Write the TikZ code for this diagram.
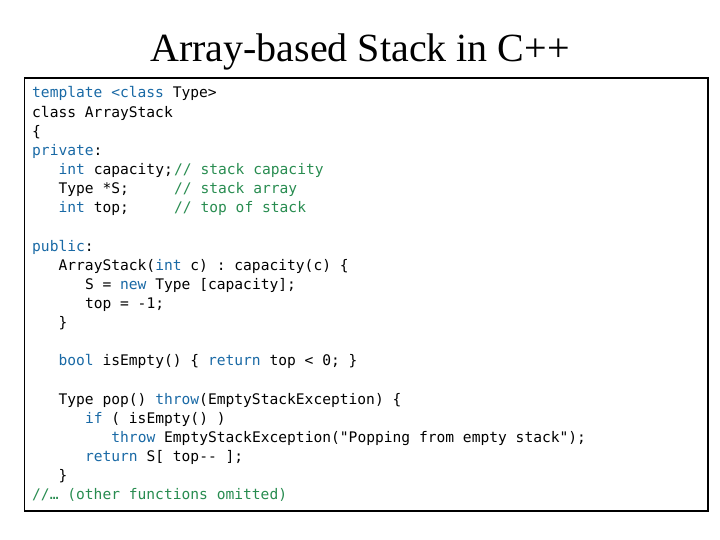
\documentclass[tikz,border=0pt]{standalone}
\usepackage{fontspec}
\usepackage{tikz}
\setmainfont{Liberation Serif}
\setmonofont{DejaVu Sans Mono}
\definecolor{kwblue}{RGB}{25,105,165}
\definecolor{cmgreen}{RGB}{40,140,80}
\newcommand{\kw}[1]{\textcolor{kwblue}{#1}}
\newcommand{\cm}[1]{\textcolor{cmgreen}{#1}}
\newcommand{\codeSize}[0]{\fontsize{14.6bp}{19bp}\selectfont}

\begin{document}
\begin{tikzpicture}[x=1bp, y=-1bp]
  \tikzset{code/.style={anchor=base west, inner sep=0pt, font=\codeSize\ttfamily}}
  \useasboundingbox (0,0) rectangle (720,540);
  \node[anchor=base, inner sep=0pt, font=\fontsize{40bp}{44bp}\selectfont] (title) at (360,62) {Array-based Stack in C++};
  \draw[line width=1.5bp] (24.5,78) rectangle (708,511);
  \node[code] (L-1) at (32,98) {\kw{template <class} Type>};
  \node[code] (L-2) at (32,117.14) {class ArrayStack};
  \node[code] (L-3) at (32,136.28) {\{};
  \node[code] (L-4) at (32,155.42) {\kw{private}:};
  \node[code] (L-5) at (58.4,174.56) {\kw{int} capacity;};
  \node[code] (C-5) at (174,174.56) {\cm{// stack capacity}};
  \node[code] (L-6) at (58.4,193.70) {Type *S;};
  \node[code] (C-6) at (174,193.70) {\cm{// stack array}};
  \node[code] (L-7) at (58.4,212.84) {\kw{int} top;};
  \node[code] (C-7) at (174,212.84) {\cm{// top of stack}};
  \node[code] (L-9) at (32,251.12) {\kw{public}:};
  \node[code] (L-10) at (58.4,270.26) {ArrayStack(\kw{int} c) : capacity(c) \{};
  \node[code] (L-11) at (84.8,289.40) {S = \kw{new} Type [capacity];};
  \node[code] (L-12) at (84.8,308.54) {top = -1;};
  \node[code] (L-13) at (58.4,327.68) {\}};
  \node[code] (L-15) at (58.4,365.96) {\kw{bool} isEmpty() \{ \kw{return} top < 0; \}};
  \node[code] (L-17) at (58.4,404.24) {Type pop() \kw{throw}(EmptyStackException) \{};
  \node[code] (L-18) at (84.8,423.38) {\kw{if} ( isEmpty() )};
  \node[code] (L-19) at (111.2,442.52) {\kw{throw} EmptyStackException("Popping from empty stack");};
  \node[code] (L-20) at (84.8,461.66) {\kw{return} S[ top-{}- ];};
  \node[code] (L-21) at (58.4,480.80) {\}};
  \node[code] (L-22) at (32,499.94) {\cm{//… (other functions omitted)}};
\end{tikzpicture}
\end{document}
